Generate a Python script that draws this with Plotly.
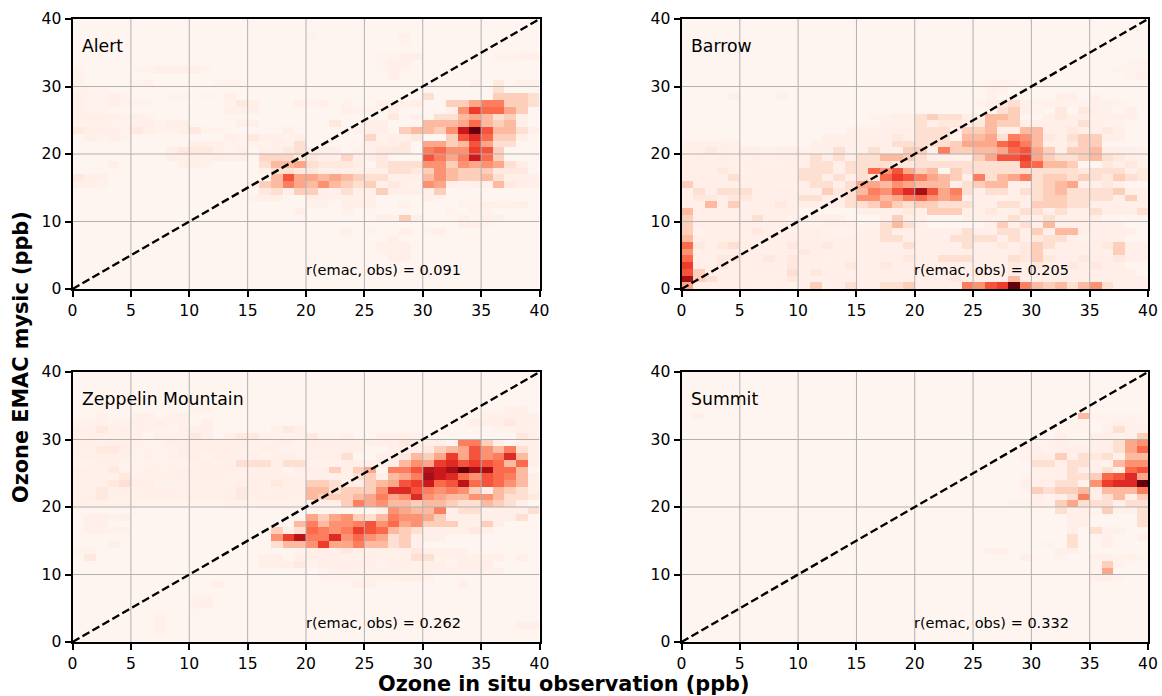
import plotly.graph_objects as go

NAMES = ["Alert", "Barrow", "Zeppelin Mountain", "Summit"]
CORR = ["0.091", "0.205", "0.262", "0.332"]
XTICKS = [0, 5, 10, 15, 20, 25, 30, 35, 40]
YTICKS = [0, 10, 20, 30, 40]
DIAG = [0, 40]
LEVELS = [0, 1, 2, 4, 6, 8, 10, 12, 14, 16]
REDS = ["#fff5f0", "#ffefe8", "#fee0d2", "#fcbba1", "#fc9272", "#fb6a4a", "#ef3b2c", "#cb181d", "#a50f15", "#67000d"]

# (row, first column, counts) - later runs overwrite earlier ones
ALERT = [
    (37, 20, [.5]), (37, 28, [.7]), (36, 28, [.5]), (34, 26, [.5, .5, 1, 1]), (34, 36, [.5, .5, .7, 1, 1]),
    (33, 26, [.5, 1, 1]), (32, 0, [.5]), (32, 5, [.5, .5, 1, 1, 1, 1, .5]), (32, 26, [.5, 1, .5]), (31, 0, [.7]),
    (31, 27, [1]), (30, 0, [.7]), (30, 5, [.5, 1]), (30, 12, [.5, .5, .5]), (30, 34, [.7, 0, 1.5, 0, .7, .7, 1]),
    (29, 0, [.5, .5, .5]), (28, 0, [1, .5, .5, 1, .5]), (28, 8, [.5, .5, 0, .5, 0, 1]),
    (28, 30, [1.5]), (27, 0, [1, .5, .5, 1, .5, .5, .5]), (27, 13, [.5, 1.5, 1]), (27, 19, [1, .5, 1, 0, .5]),
    (27, 26, [1, 1, .7, 1]), (26, 0, [1, .5, .5]), (26, 13, [1, 1, 1]), (26, 23, [1, .5]), (26, 25, [.5, 0, 1]),
    (25, 0, [1, 1, 1, 1, .5, 1, .5]), (25, 27, [1.5]), (25, 29, [1]),
    (24, 0, [.7, .7, .7, .5, .5, 1, 1, .5, 1, 1]), (24, 14, [1, 1]), (24, 22, [1.5]), (24, 25, [1, 1]),
    (23, 0, [1.5, 1, 1, 1, .5, 1.5, 1, .5, .5, 1, 1.5, .5, .5]),
    (23, 18, [1]), (23, 24, [.5, 1, 1]),
    (22, 1, [1, .5, 1, .5]), (22, 13, [1, .5]), (22, 15, [1.5, 1, 1, .5, 1]), (22, 25, [2.5, .5, 1, 1, 1.5]),
    (21, 10, [1, 1, 1, .5, .5, .5]), (21, 16, [.5, 1, 1, 2]), (21, 25, [1, 1, 1, 1.5]),
    (20, 8, [1, 1.5, 1.5, 1.5, 1, .5, 1, 0, 1, 1, 1.5, 2, 1, 1, 1, 0, .5, 1, 1.5, 1.5, 1.5]),
    (19, 8, [1, 1, 1, 1, 1, 1, 1]), (19, 16, [2.5, 2.5, 2.5, 1.5, 1.5, 1, 1, 2.5, 1, 1, 1.5]),
    (18, 3, [1]), (18, 9, [1, 1, .5]),

    (23, 28, [3, 4, 4, 3, 6, 12, 16, 9, 4, 4, 2, 1]),
    (24, 30, [4, 4, 4, 5, 8, 4, 3, 4, 1]),
    (25, 31, [2, 2, 4, 5, 4, 2, 3, 1]),
    (26, 32, [1, 6, 10, 8, 8, 5, 3]),
    (27, 32, [3, 3, 5, 7, 7, 3, 3, 2]),
    (28, 30, [2]), (28, 36, [3, 3, 3, 2]),
    (29, 36, [2]),
    (22, 32, [3, 9, 11, 8, 3, 3, 1]),
    (21, 30, [5, 5, 3, 4, 9, 5, 2, 2]),
    (20, 30, [7, 8, 6, 6, 10, 9, 3]),
    (19, 30, [9, 7, 5, 7, 12, 8, 3]),
    (18, 16, [2, 4, 4, 5, 2, 1.5, 1.5, 1.5, 1, 0, 1.5, 2, 2, 2, 6, 6, 3, 6, 5, 6, 5, 2, 1]),
    (17, 16, [1, 2, 2, 1.5, 1.5, 1, 1, 1, 1, 1, 1, 2, 2, 1.5, 3, 6, 4, 3, 3, 3, 1.5, 1.5, 1.5, 0, 1]),
    (16, 0, [1.5, 1, 1]),
    (16, 17, [4, 9, 5, 5, 4, 5, 4, 3, 2, 2, 1, 1, 1, 4, 6, 4, 3, 3, 4, 2, 1, 1, 1]),
    (15, 0, [1, 1, .5]),
    (15, 15, [1, 3, 4, 7, 5, 4, 6, 4, 3, 2, 3, 1, 1.5, 1, .5, 6, 5, 1, .5, 1, 1, 4, 1.5, 1, 1, .5]),
    (14, 16, [1.5, 2, 1, 3, 3, 1, 1, 2, 1, 1, 3, 1, 1, 1, 1, 3]),
    (13, 15, [.7, 1, 1, 0, 0, 1, 1, .7, .7, .7, .7, 0, 0, 0, 0, 1, .5]),
    (12, 20, [.7, .5, 0, 1, 1, 1, 0, 0, .7, 0, 0, 0, 0, .5, .5, 1, .7, .7, 1]),
    (11, 19, [1, 0, 0, 0, .7, 0, .5, 0, 0, 0, 0, 0, 0, .5, 0, .5, .5]),
    (10, 26, [1, 1, 3, 1]), (10, 33, [1, 0, 1, 1]),
    (9, 33, [1, 1, .5]), (8, 23, [.7, 0, .5, 0, 0, 1, 0, 0, 1]), (8, 30, [.5]),
    (7, 27, [1]), (6, 26, [.7, .7, 1]), (5, 26, [.5, .7, 1]), (4, 27, [1, 1]),
]

BARROW = [
    (33, 38, [.5, .7]), (32, 37, [.5, .5, .5]), (31, 38, [.5, 1]), (30, 26, [.5, .7, .5]),
    (29, 26, [1, .7]), (28, 4, [1]), (28, 8, [.7]), (28, 26, [.7]), (28, 32, [1, 1]), (28, 35, [.7]),
    (27, 25, [.5, 1, 1.5]), (27, 29, [1.5, .5, .7, .7, .5, .5, .7, .7, .5]), (26, 30, [.5, 0, 1.5, 0, 1.5, 1, .5, 0, 1]),
    (25, 16, [.5, .5, 1, 1, 2, 3, 2, 2, 1, 1, .5]), (25, 31, [1, 1.5, 1, 1, .7, .7, 1, 1]),
    (24, 17, [.7, .7, .7, 2, 1, 1.5, 1.5, 1, 1.5, 1]), (24, 30, [1, 1, 1, 1, 2, 1, .5, .5]),
    (23, 14, [.7, .7, .7]), (23, 17, [1, 1, 1, 2, 2, 2, 1, 1]), (23, 31, [1, 1, 1.5, 1, 1, 1.5, 1]),
    (22, 12, [1, 1, 1, 1]), (22, 16, [1, 1, 1.5, 1, 2, 2, 2]), (22, 31, [1.5, 1, 2, 1, 1, 1, 1]),
    (21, 0, [1, 1, 1, .7, .7]), (21, 11, [1, 1, 1, 1, 1, 1, 1, 2, 2, 2, 2, 2]), (21, 31, [1, 1, 1.5]),
    (20, 0, [.7, 1, 1.5, 1, .7, 1]), (20, 5, [1, 1, .7, 1, 1, .7, 1, 1, 2, 1]), (20, 36, [1, 1, 1, .7]),
    (19, 0, [1, 1, 1, 1, 1, .7, 1, 1, 1, 1, 1]), (19, 11, [2, 1, 2, 2, 2]), (19, 20, [2, 2, 2, 2]), (19, 31, [1.5, 1.5, 1.5, 2, 2, 2, 1.5, 1, .7]),
    (18, 0, [1, 1, 1, 1, .7, 1, 1, .7, .7, 1, 1, 2, 2, 1, 2, 2, 2, 2, 1.5, 1.5, 2, 2, 2, 2, 2, 2, 2]), (18, 36, [1.5, 1, 1.5, 1]),
    (17, 0, [1, 1, 1, 1.5, 1, .7, 1, 1, 1, 1, 2, 2, 2, 1, 2, 2]), (17, 23, [3, 2, 2, 2, 2, 2, 2, 2, 2, 2, 2, 1.5, 2, 2, 2, 1, 1.5]),
    (16, 0, [1, 1, 1, 1, 2, 1, 1, 1, 1, 1]), (16, 10, [2, 2, 1, 4]), (16, 14, [1, 2, 2]), (16, 31, [3, 3, 2, 3, 2, 1.5, 3, 2, 1.5]),
    (15, 0, [3, 1, 1, 1, 1, 1, .7, 1, .7, .7, 1, 2, 2, 1, 2]), (15, 34, [1.5, 2, 1.5, 1]),
    (14, 0, [1, 2, 1, 2, 2, 2, 1, 1, 1, 1, 1, 1, 3, 1.5, 2]), (14, 31, [3, 4, 2, 2, 2, 2, 3, 1, 1]),
    (13, 0, [1, 1.5, 1.5, 1, 1.5, 1.5, 1, 1, 1, 1, 2, 2, 1, 1, 2]), (13, 25, [1.5, 2, .5, 2, 1, 2, 3, 3, 2, 2, 2, 2, 1, 3, 1, 1]),
    (12, 0, [1, 1, 4, 1, 3, 1, 1, 1, 1.5, 1, 1, 1, 1, 1, 2]), (12, 15, [2, 3, 5, 3, 2, 3, 3, 2, 2, 2, 1, 1, 2, 2, 1, 3, 3, 3, 2, 2, 1, 1, 1, 1, 1]),
    (11, 0, [4, 1, 1, 1, 1, 1, 1, 1, 1, 1]), (11, 15, [1, 1, 1, 1, 1.5, 1, 3, 3, 3, 1, 1, 1.5, .7, 1, 2, 2, 1, 2, 1, 1, 2, 1, 1, 1, 2]),
    (10, 0, [3, 1, 1, 1, 1, 1, 2, 1, 1, .5, 1, 1, 1, 1]), (10, 17, [1, 3, 1, 1]), (10, 24, [1, 1, 1, 1, 2, 1, 1, 2, 1, 1, 1, 1]),
    (9, 0, [3, 1, 1, 1, 1, 1, 1, 1, 1, 1, .5, .5, 1, 1, 1, .5, .5, 2, 4, 2, 1]), (9, 26, [1, 3, 1, 2, 1, 4, 1, 1, 1, 1, 1, 1]),
    (8, 0, [3, .5, 1, 1, 1, 1, 1.5, 1, .7, .7, 1, 1, .5, .5, .5, .7, 1, 2, 1, 1, .7, 1, 1, 1, 2, 1, 1, 2, 2, 1, 3, 1, 1, 4, 1, 1, 1, 1, 1]),
    (7, 0, [4, 1, 1, 1, 1, .7, 1, 1, 1, 1, 1, 1, .7, 1, 1, 1, 1, 2, 2, 1, 1, 1, 1, 2, 2, 2, 2, 1, 2, 1, 1.5, 2, 2, 1, .5, 1, 1, 1]),
    (6, 0, [8, 1.5, 1, 1.5, 2, 1, 1, 1, 1, 1.5, 1, 1, 1.5, 1, 1, 1, 1, 1, 1, 2, 1, 1, 1, 1, 2, 1, 1, 1.5, 1, 1.5, 3, 2, 1, 1, 1, 1, 1.5, 3, 1, 1]),
    (5, 0, [6, 1, 1, 1, 1, 1, 1, 1, 1, 1, 1.5, 1, 1, 1, 1, 1, 1, 1, 1, 1, 1, 1, 1, 1, 1, 1, 1, 1, 1, 1.5, 3, 1, 1, 1, 1, 1, 1, 3, 1, 1]),
    (4, 0, [8, 1, .7, 1.5, 1.5, 1, 1, 1.5, 1, 1.5, 1, 1, .7, 1, 1, 1, 1, 1, 1, 1.5, 1, 1, 2, 2, 2, 1, 1, 1, 2, 1.5, 3, 1.5, 1, 1, 1.5, 1, 1, 1.5, 1, 1]),
    (3, 0, [10, 1, 1, 1.5, 1, 1, 1, 1, 1, 1.5, 1, 1, 1, 1, 1.5, 1, 1, 1.5, 1, 1, 1, 1, 1, 1, 1, 1, 1, 1, 1.5, 1, 1.5, 1, 1, 1.5, 1, 1.5, 1, 1]),
    (2, 0, [9, 3, 1, 1, 1, 1, 1, 1, 1, 2, 1, 1.5, 1, 1, 1, 1, 1, 1, 1, 1, 1, 1, 1, 1, 1, 1.5, 1, 1, 1, 1, 1, 1, 1, 1, 1, 1, 1, 1, 1]),
    (1, 0, [14, 3, 2, 1, 1, 1, 1, 1, 1, 1.5, 1, 1, 1, 1, 1, 1, 1, 1, 1, 1, 1, 1, 1, 1.5, 1, 1, 1, 1, 4, 1, 1, 1, 1, 1, 1, 1, 1, 1, 1, 1]),
    (0, 0, [5, 1, 1, 1, 1, 1, .7, .7, 1, .5, 1, 3, .7, 1, 2, 1, 1, 2, 2, 3, 1, 1, 1, 1, 7, 6, 9, 10, 16, 7, 4, 3, 4, 2, 4, 6, 2, 1, 1, 1]),

    (14, 14, [2, 4, 7, 6, 9, 11, 14, 9, 5, 7, 2, 1, 2, 2, 1, 2, 2]),
    (13, 15, [6, 6, 4, 5, 7, 8, 6, 5, 6, 1, 1, 1, .5, 1, 1, 2]),
    (15, 15, [5, 5, 4, 6, 5, 4, 4, 4, 1, 2, 3, 4, 4, 1, 1, 2, 3, 4, 5, 1, 1]),
    (16, 13, [2, 1, 2, 1.5, 8, 10, 9, 7, 5, 4, 3, 1, 7, 2, 4, 5, 7, 2]),
    (17, 16, [8, 6, 9, 5, 3, 4, 0, 3, 2, 2, 2]),
    (18, 27, [2, 2, 9, 8, 4, 4, 3]),
    (19, 14, [1, 2, 2, 4, 4, 3, 2, 1, 1, 1, 1, 3, 5, 9, 9, 10, 5, 3, 2, 2, 3, 4]),
    (20, 15, [1, 2, 1, 1, 3, 3, 1, 7, 3, 3, 4, 4, 5, 8, 9, 5, 3, 1, 3, 3, 4, 1]),
    (21, 23, [3, 5, 5, 5, 8, 9, 7, 4]), (21, 34, [3, 3]),
    (22, 24, [4, 4, 5, 2, 7, 6, 4]), (22, 34, [3, 3]),
    (23, 24, [3, 3, 4, 1, 1, 4, 4]),
    (24, 26, [4, 3, 3, 1]),
    (25, 26, [4, 4, 3]),
    (26, 27, [2, 3, 1]),
    (27, 28, [2, 1]),
    (8, 30, [3, 1, 4]),
]

ZEPPELIN = [
    (34, 10, [.5, .7]), (33, 2, [.7, 0, 0, .7, 1, 0, .7, 1]), (34, 37, [.7, 1]), (33, 35, [.7, .7, 1, .7, 1]),
    (32, 0, [.5, .5, .7, .5, .5, 1, .7, 1, .5, .7, 0, 1]), (32, 34, [1, 1, 1, 1.5, 1, 1]),
    (31, 0, [1, .7, 1.5, .7, 1, 1, .5, .5, .5, 1, 1, 1]), (31, 17, [.7, 1.5, 1]), (31, 36, [.5, .5, 1, .7]),
    (30, 0, [.7, 1, .7, .7, .7, 1, 0, 1, .7, 1, 1.5, 1, 0, 1, 1.5, 1.5, .7, .5, .5, .7, 1.5, .5, .5, 1]), (30, 26, [1, 1, 1, .7]), (30, 38, [1.5, 1]),
    (29, 0, [1, 1, .7, 1, 1, .7, .5, .5, 1, 1, 1, 1, 1, 1, 1, .7, .5, 1, 1, .5, 1, 1, 1, 1, 1, 1, 1, 1, 1.5, 1, 1]), (29, 38, [1, 1]),
    (28, 0, [1, .7, 1.5, 1.5, 1, .5, .5, .5, .5, 1, 1, 1, 1, 1, .7, .5, 1, .7, .5, .5, .7, .7, .7, 1, 1]),
    (27, 0, [.7, .7, 1, 1, .7, .5, .7, .5, .7, 1, 1, .5, 1, 1, 1, 1, .5, 1, 1, .5, 1, 1, 1, 2]),
    (26, 0, [.5, .5, 1, 1, .5, .5, .5, .5, .5, .5, .7, 1, .7, 1, 2, 2, 2, 1, 2, 2, .5, .5, .5, 1, 1, 1, 1]),
    (25, 0, [1, .7, .7, 1.5, .5, .5, 1, .5, .7, 1, .7, 1, 1, 1, 1, 1, 1, 1, 0, 1, 1, 1, 3, 1, 3, 5]),
    (24, 0, [.7, .7, .7, .7, 1.5, .7, .7, .7, .7, 1, .7, 1, 1, .7, .7, 1, 1, 1, 1, .7]),
    (23, 0, [.7, .7, 1, 1.5, 2, 1, 1, .5, .5, .7, .7, .7, .7, .7, 1, 1, 1, 1.5, 1, 1]),
    (22, 0, [.7, .7, 1.5, 1, 1, .7, 1, 1, 1, .7, .7, .7, .7, 1, 1.5, 1, .7, 1, 1, 1]),
    (21, 0, [1, 1, 1.5, .7, .7, .7, .7, .7, 1, .7, 1, 1, .7, 1, 1.5, 1, 1, 1, 1, .7]),
    (20, 0, [1, .7, .7, .7, .7, .5, .5, .5, .5, .5, .5, .5, .5, .7, .7, .7, .7, .7, .7, .7]),
    (18, 1, [.7, 1, .5, 1]), (17, 1, [.7, 1]), (16, 1, [.7, .7, .5, .5]), (14, 3, [1]),
    (12, 1, [1.5]), (13, 0, [.5, .5]), (12, 16, [1, 1, 0, 1, 1, 1, 1, .7, .7, 1, .7, .7, 1, 2, 2, .7, .7, 1, .7, .7, 1, 0, 1]),
    (11, 16, [1, 1, 1, 1.5, .5, 1, 1, 1, 1, 1, .5, 1, 1, .7, 1, 1, .5, 1, 1, 1]),
    (10, 21, [.5, 1, 1, .7, .7, .7, .7, .7, .7, 1, .7, 1, .7, .7, .7, 1]),
    (9, 21, [.5, .5, .5, .5, .7, .7, .7, 1, 1, .7]),
    (8, 12, [1, 0, 0, 0, 0, 0, 0, 0, 0, 0, 0, 0, 1, .7]), (8, 33, [1]),
    (6, 10, [.5, .7]), (5, 10, [.7, 1]), (4, 10, [.5]), (3, 7, [1]), (2, 7, [1]), (2, 38, [1, 1]), (1, 7, [.7]),

    (13, 19, [.5, 1, 1, 1, 1.5, 1, .7, 1, 1, 1, 1.5, 1, 1, 1, .7]),
    (29, 31, [1, 0, 7, 7, 3, 1]),
    (28, 27, [1, 1, 1, 1.5, 3, 4, 5, 9, 6, 4, 7, 2, 1]),
    (27, 26, [1, 1, 1.5, 4, 3, 5, 10, 5, 9, 6, 7, 11, 4, 1]),
    (26, 26, [1, 1, 4, 6, 5, 10, 11, 9, 10, 9, 8, 4, 8, 1]),
    (25, 27, [7, 7, 9, 13, 12, 14, 16, 14, 14, 8, 8, 4]),
    (24, 20, [1, 1, 1, 1, 2, 3, 1, 4, 5, 7, 14, 12, 11, 8, 6, 9, 8, 7, 4, 1]),
    (23, 20, [3, 3, 2, 1, 1, 3, 4, 5, 9, 10, 12, 8, 9, 13, 8, 9, 8, 6, 4, 1]),
    (22, 20, [4, 4, 2, 3, 3, 3, 6, 11, 11, 9, 7, 6, 7, 6, 3, 1, 4, 3, 2, 1]),
    (21, 20, [4, 3, 3, 3, 4, 5, 7, 5, 6, 11, 6, 5, 4, 4, 6, 6, 4, 2, 2, 1.5]),
    (20, 20, [1, 1, 1, 3, 7, 5, 6, 4, 4, 3, 4, 4, 3, 2, 2, 4, 3, 2, 1]),
    (19, 26, [1, 6, 5, 4, 4, 7, 1, 2, 2, 1, 1, 1, 1, 2]),
    (18, 20, [5, 3, 5, 6, 3, 2, 4, 7, 6, 6, 5, 3, 1, 1, 1, 1, 1, 1, 2]),
    (17, 19, [4, 7, 4, 6, 6, 7, 9, 6, 8, 5, 6, 3, 3, 3, 1, 1, 3, 1]),
    (16, 17, [3, 1, 2, 8, 7, 6, 7, 10, 9, 8, 4, 3, 2, 1, 1, 1, 1, 1.5, 1]),
    (15, 17, [6, 10, 13, 7, 7, 11, 6, 8, 6, 5, 2, 3, 1, 1, 1]),
    (14, 17, [2, 4, 4, 6, 10, 5, 5, 7, 4, 4, 2, 3, 1]),
]

SUMMIT = [
    (33, 1, [1]), (33, 34, [4]), (33, 35, [.5, .5, .5, .5, .5]), (32, 33, [.5, .5, 0, .5, 1, .7, .5]), (31, 32, [.5, .5, .5, 0, .7, 2, .5, .7, 1]),
    (30, 32, [1]), (30, 35, [1, 1, .7, 1, 3]),
    (29, 30, [.5, .5, 1, .5, .5, 1, 1, 2, 5, 6]),
    (28, 29, [.5, 1, .5, 1, 1, 1, 1, 1, 2, 5, 8]),
    (27, 29, [.5, 1, 1, 3, 1, 2, 1.5, 2, 1, 4, 4, 5]),
    (26, 30, [2, 2, 1, 2, 2, 1, .5, 4, 6, 6]),
    (25, 30, [.7, 1, 1, 2, 1, 1, 2, 1, 8, 9, 10]),
    (24, 29, [.5, .7, .7, 1, 2, 2, 3, 8, 9, 11, 5]),
    (23, 29, [1, 1, 1, 2, 2, .5, 6, 10, 11, 11, 16]),
    (22, 29, [.5, 3, 2, 3, 3, 4, 1, 4, 4, 4, 7]),
    (21, 30, [1, .5, 1, 2, 7, 1, 2, 4, 1, 3]),
    (20, 28, [.5, .5, 1, .5, 3, 5, 2, 2, 2, 1, 2, 2]),
    (19, 32, [2, .7, 1, .5, 3, .7, .7, 2]),
    (18, 33, [1, 1, 0, 0, 0, 0, 2]),
    (17, 33, [1, 1, 0, 0, 0, 0, 2]),
    (16, 33, [1, 0, 2, .7, .7]), (15, 33, [2, 0, 0, 1, 0, 0, 1]), (14, 31, [.5, 0, 2, 0, 0, 1]),
    (13, 26, [1, 1, 0, 0, 0, 0, 1, 1]), (12, 29, [1, 0, 0, .5, 0, 0, .7, .7, .5, .7, .5]),
    (11, 36, [3, .5]), (11, 34, [0, .5]), (10, 35, [.5, 5]), (9, 35, [1, 1, .5]),
]
PANELS = [ALERT, BARROW, ZEPPELIN, SUMMIT]

X_DOMAINS = [(72.5, 539.5), (681.5, 1148)]
Y_DOMAINS = [(19, 289), (372, 642)]
W, H = 1162, 696
FONT = "DejaVu Sans"


def grid(runs):
    z = [[0.0] * 40 for _ in range(40)]
    for row, col, vals in runs:
        for i, v in enumerate(vals):
            if col + i < 40:
                z[row][col + i] = v
    return z


centers = [i + 0.5 for i in range(40)]
colorscale = [[lv / LEVELS[-1], c] for lv, c in zip(LEVELS, REDS)]
fig = go.Figure()
annotations = []
for k, runs in enumerate(PANELS):
    col, row = k % 2, k // 2
    xa, ya = f"x{k + 1}", f"y{k + 1}"
    xd, yd = X_DOMAINS[col], Y_DOMAINS[row]
    fig.add_trace(go.Heatmap(x=centers, y=centers, z=grid(runs), colorscale=colorscale, zmin=0, zmax=16,
                             showscale=False, xaxis=xa, yaxis=ya))
    for t in XTICKS[1:-1]:
        fig.add_trace(go.Scatter(x=[t, t], y=[YTICKS[0], YTICKS[-1]], mode="lines", showlegend=False,
                                 line=dict(color="#b0b0b0", width=1), xaxis=xa, yaxis=ya))
    for t in YTICKS[1:-1]:
        fig.add_trace(go.Scatter(x=[XTICKS[0], XTICKS[-1]], y=[t, t], mode="lines", showlegend=False,
                                 line=dict(color="#b0b0b0", width=1), xaxis=xa, yaxis=ya))
    fig.add_trace(go.Scatter(x=DIAG, y=DIAG, mode="lines", showlegend=False, cliponaxis=False,
                             line=dict(color="black", width=2.4, dash="8px,3.5px"), xaxis=xa, yaxis=ya))
    ax = dict(range=[0, 40], showgrid=False, zeroline=False, showline=True, mirror=True, linecolor="black",
              linewidth=2, ticks="outside", ticklen=6, tickwidth=1.5, tickcolor="black", automargin=False,
              tickfont=dict(family=FONT, size=15.6, color="black"))
    fig.layout[f"xaxis{k + 1}"] = dict(ax, domain=[xd[0] / W, xd[1] / W], tickvals=XTICKS, anchor=ya)
    fig.layout[f"yaxis{k + 1}"] = dict(ax, domain=[1 - yd[1] / H, 1 - yd[0] / H], tickvals=YTICKS, anchor=xa)
    annotations.append(dict(text=NAMES[k], x=0.62, y=36, xref=xa, yref=ya, xanchor="left", yanchor="middle",
                            showarrow=False, font=dict(family=FONT, size=17.3, color="black")))
    annotations.append(dict(text=f"r(emac, obs) = {CORR[k]}", x=19.8, y=2.8, xref=xa, yref=ya, xanchor="left",
                            yanchor="middle", showarrow=False, font=dict(family=FONT, size=14.5, color="black")))

annotations.append(dict(text="<b>Ozone in situ observation (ppb)</b>", x=563 / W, y=1 - 684 / H, xref="paper",
                        yref="paper", xanchor="center", yanchor="middle", showarrow=False,
                        font=dict(family=FONT, size=20.8, color="black")))
annotations.append(dict(text="<b>Ozone EMAC mysic (ppb)</b>", x=21 / W, y=1 - 357 / H, xref="paper", yref="paper",
                        xanchor="center", yanchor="middle", textangle=-90, showarrow=False,
                        font=dict(family=FONT, size=20.8, color="black")))

fig.update_layout(width=W, height=H, margin=dict(l=0, r=0, t=0, b=0, autoexpand=False), paper_bgcolor="white",
                  plot_bgcolor="white", showlegend=False, annotations=annotations, font=dict(family=FONT))
fig.write_html("out.html", config=dict(displayModeBar=False), post_script="document.body.style.margin='0';")
